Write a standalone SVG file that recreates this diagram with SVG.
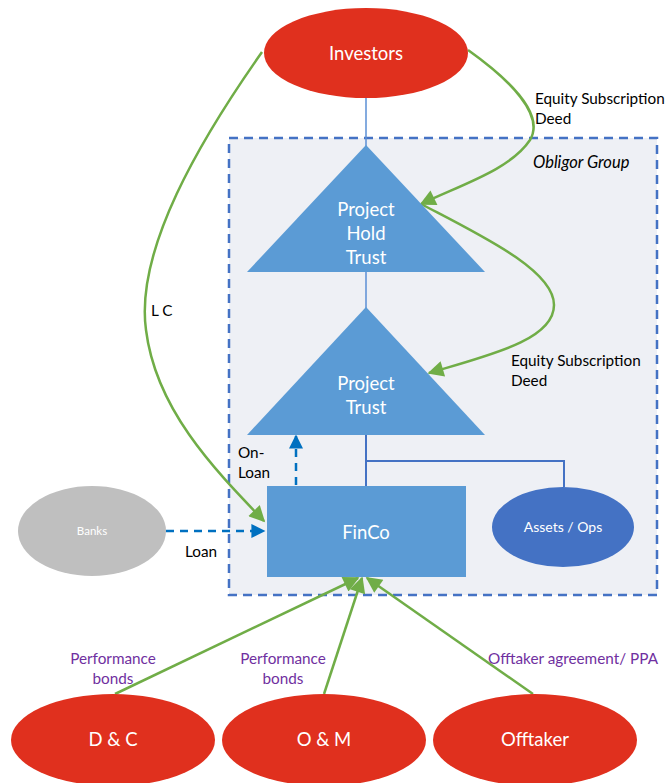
<svg xmlns="http://www.w3.org/2000/svg" width="669" height="783" viewBox="0 0 669 783">
<style>
text{font-family:Lato,"Open Sans","Liberation Sans",sans-serif}
.red{fill:#E0301E}
.wt{fill:#ffffff;font-size:18.5px;text-anchor:middle}
.lbl{fill:#000000;font-size:15.3px}
.pur{fill:#7030A0;font-size:15.3px}
.tri{fill:#5B9BD5}
.g{fill:none;stroke:#70AD47;stroke-width:2.5}
.bl{fill:none;stroke:#4472C4;stroke-width:2}
.thin{fill:none;stroke:#5B8FD5;stroke-width:1.5}
.dash{fill:none;stroke:#0070C0;stroke-width:2.5;stroke-dasharray:8 6}
</style>
<defs>
<marker id="ga2" viewBox="0 0 10 10" refX="9" refY="5" markerWidth="18" markerHeight="16" markerUnits="userSpaceOnUse" orient="auto"><path d="M0,0L10,5L0,10z" fill="#70AD47"/></marker>
<marker id="ba" viewBox="0 0 10 10" refX="9" refY="5" markerWidth="16" markerHeight="14" markerUnits="userSpaceOnUse" orient="auto"><path d="M0,0L10,5L0,10z" fill="#0070C0"/></marker>
</defs>
<g id="obligor-group">
<rect x="229" y="138" width="428" height="457" fill="#EEF0F5" stroke="#4472C4" stroke-width="2.5" stroke-dasharray="9 6"/>
<text x="533" y="168" class="lbl" style="font-style:italic;font-size:16.5px">Obligor Group</text>
</g>
<g id="connectors">
<line x1="366" y1="98" x2="366" y2="146" class="thin"/>
<line x1="366" y1="272" x2="366" y2="308" class="thin"/>
<polyline points="366,435 366,486" class="bl"/>
<polyline points="366,461 564,461 564,487" class="bl"/>
<path d="M262,52 C200,140 135,250 146,330 C156,410 215,470 264,521" class="g" marker-end="url(#ga2)"/>
<path d="M468,50 C510,80 545,115 530,140 C510,170 460,185 421,204" class="g" marker-end="url(#ga2)"/>
<path d="M421,204 C480,235 554,270 554,305 C554,340 490,355 429,373" class="g" marker-end="url(#ga2)"/>
<line x1="166" y1="531" x2="264" y2="531" class="dash" marker-end="url(#ba)"/>
<line x1="296" y1="485" x2="296" y2="436" class="dash" marker-end="url(#ba)"/>
<line x1="115" y1="694" x2="358" y2="578" class="g" marker-end="url(#ga2)"/>
<line x1="324" y1="694" x2="362" y2="578" class="g" marker-end="url(#ga2)"/>
<line x1="533" y1="694" x2="367" y2="578" class="g" marker-end="url(#ga2)"/>
<text x="535" y="104" class="lbl">Equity Subscription</text>
<text x="535" y="124" class="lbl">Deed</text>
<text x="511" y="366" class="lbl">Equity Subscription</text>
<text x="511" y="386" class="lbl">Deed</text>
<text x="151" y="316" class="lbl">L C</text>
<text x="238" y="458" class="lbl">On-</text>
<text x="238" y="478" class="lbl">Loan</text>
<text x="185" y="557" class="lbl">Loan</text>
<text x="113" y="664" class="pur" text-anchor="middle">Performance</text>
<text x="113" y="684" class="pur" text-anchor="middle">bonds</text>
<text x="283" y="664" class="pur" text-anchor="middle">Performance</text>
<text x="283" y="684" class="pur" text-anchor="middle">bonds</text>
<text x="488" y="664" class="pur">Offtaker agreement/ PPA</text>
</g>
<g id="investors">
<ellipse cx="366" cy="53" rx="102" ry="45" class="red"/>
<text x="366" y="60" class="wt">Investors</text>
</g>
<g id="project-hold-trust">
<polygon points="366,145 247,272 485,272" class="tri"/>
<text x="366" y="216" class="wt">Project</text>
<text x="366" y="240" class="wt">Hold</text>
<text x="366" y="264" class="wt">Trust</text>
</g>
<g id="project-trust">
<polygon points="366,307 247,435 485,435" class="tri"/>
<text x="366" y="390" class="wt">Project</text>
<text x="366" y="414" class="wt">Trust</text>
</g>
<g id="finco">
<rect x="267" y="486" width="199" height="91" fill="#5B9BD5"/>
<text x="366" y="539" class="wt">FinCo</text>
</g>
<g id="assets-ops">
<ellipse cx="563" cy="527" rx="71" ry="40" fill="#4472C4"/>
<text x="563" y="532" class="wt" style="font-size:14px">Assets /  Ops</text>
</g>
<g id="banks">
<ellipse cx="92" cy="531" rx="74" ry="45" fill="#BFBFBF"/>
<text x="92" y="535" class="wt" style="font-size:11.5px">Banks</text>
</g>
<g id="dc">
<ellipse cx="113" cy="740" rx="102" ry="46" class="red"/>
<text x="113" y="746" class="wt">D &amp; C</text>
</g>
<g id="om">
<ellipse cx="324" cy="740" rx="102" ry="46" class="red"/>
<text x="324" y="746" class="wt">O &amp; M</text>
</g>
<g id="offtaker">
<ellipse cx="535" cy="740" rx="102" ry="46" class="red"/>
<text x="535" y="746" class="wt">Offtaker</text>
</g>
</svg>
